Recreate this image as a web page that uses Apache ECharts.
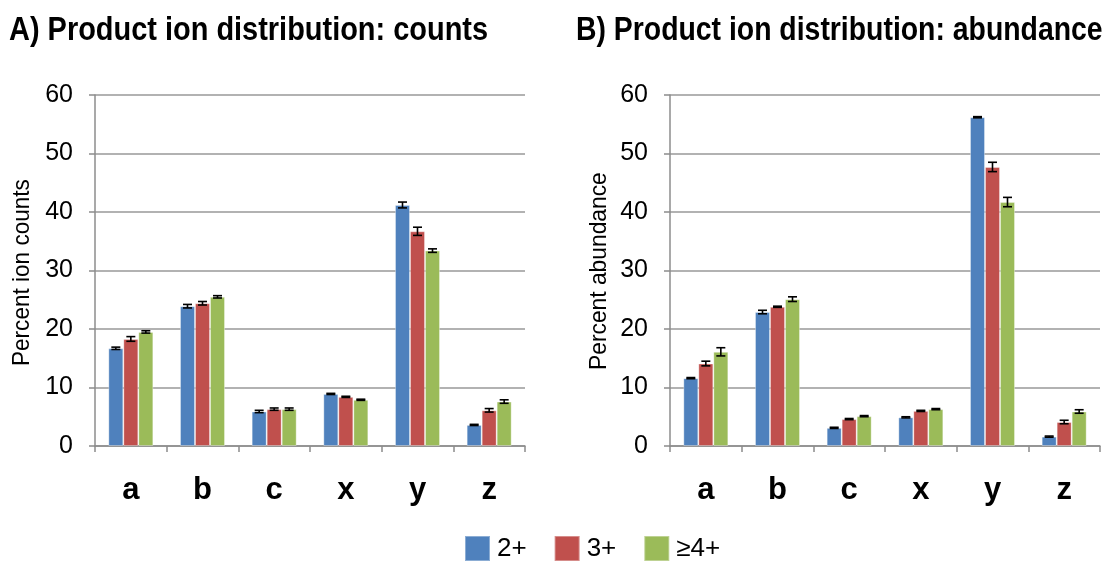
<!DOCTYPE html>
<html>
<head>
<meta charset="utf-8">
<script src="https://cdn.jsdelivr.net/npm/echarts@6/dist/echarts.min.js"></script>
<style>
html,body{margin:0;padding:0;background:#fff;}
#chart{width:1114px;height:563px;}
</style>
</head>
<body>
<div id="chart"></div>
<script>
var categories = ['a', 'b', 'c', 'x', 'y', 'z'];
var seriesNames = ['2+', '3+', '\u22654+'];
var yTicks = [0, 10, 20, 30, 40, 50, 60];
var titles = ['A) Product ion distribution: counts', 'B) Product ion distribution: abundance'];
var axisNames = ['Percent ion counts', 'Percent abundance'];

var counts2 = [16.7, 23.9, 5.9, 8.9, 41.2, 3.6];
var counts3 = [18.3, 24.4, 6.3, 8.4, 36.7, 6.1];
var counts4 = [19.5, 25.5, 6.3, 7.9, 33.4, 7.6];
var countsErr2 = [0.2, 0.3, 0.2, 0.1, 0.5, 0.1];
var countsErr3 = [0.4, 0.3, 0.2, 0.1, 0.7, 0.3];
var countsErr4 = [0.2, 0.2, 0.2, 0.1, 0.3, 0.3];

var abund2 = [11.6, 22.9, 3.1, 4.9, 56.2, 1.6];
var abund3 = [14.1, 23.8, 4.6, 6.0, 47.7, 4.1];
var abund4 = [16.1, 25.1, 5.1, 6.3, 41.7, 5.9];
var abundErr2 = [0.1, 0.3, 0.1, 0.1, 0.1, 0.1];
var abundErr3 = [0.4, 0.1, 0.1, 0.1, 0.8, 0.3];
var abundErr4 = [0.7, 0.4, 0.1, 0.1, 0.8, 0.3];

var colors = ['#4F81BD', '#C0504D', '#9BBB59'];
var FONT = '"Liberation Sans", Arial, sans-serif';
var BAR_W = 15;

function errData(means, errs) {
  var out = [];
  for (var s = 0; s < means.length; s++) {
    for (var i = 0; i < categories.length; i++) {
      out.push([i, means[s][i], errs[s][i], s]);
    }
  }
  return out;
}

function renderErr(params, api) {
  var cat = api.value(0), val = api.value(1), err = api.value(2), s = api.value(3);
  var top = api.coord([cat, val + err]);
  var bot = api.coord([cat, val - err]);
  var x = top[0] + (s - 1) * BAR_W;
  var cap = 4.5;
  var style = { stroke: '#000', lineWidth: 1.6 };
  return {
    type: 'group',
    children: [
      { type: 'line', shape: { x1: x, y1: top[1], x2: x, y2: bot[1] }, style: style },
      { type: 'line', shape: { x1: x - cap, y1: top[1], x2: x + cap, y2: top[1] }, style: style },
      { type: 'line', shape: { x1: x - cap, y1: bot[1], x2: x + cap, y2: bot[1] }, style: style }
    ]
  };
}

function makeX(gi) {
  return {
    type: 'category', gridIndex: gi, data: categories,
    axisLine: { lineStyle: { color: '#8c8c8c', width: 1.5 } },
    axisTick: { show: true, length: 6, lineStyle: { color: '#8c8c8c', width: 1.5 } },
    axisLabel: { color: '#000', fontFamily: FONT, fontWeight: 'bold', fontSize: 31, margin: 29 }
  };
}
function makeY(gi) {
  return {
    type: 'value', gridIndex: gi, min: yTicks[0], max: yTicks[yTicks.length - 1], interval: 10,
    axisLine: { show: true, lineStyle: { color: '#8c8c8c', width: 1.5 } },
    axisTick: { show: true, length: 6, lineStyle: { color: '#8c8c8c', width: 1.5 } },
    splitLine: { lineStyle: { color: '#999', width: 1.5 } },
    axisLabel: { color: '#000', fontFamily: FONT, fontSize: 25, margin: 22 }
  };
}

var countsMeans = [counts2, counts3, counts4];
var countsErrs = [countsErr2, countsErr3, countsErr4];
var abundMeans = [abund2, abund3, abund4];
var abundErrs = [abundErr2, abundErr3, abundErr4];

var series = [];
[countsMeans, abundMeans].forEach(function (means, gi) {
  means.forEach(function (arr, s) {
    series.push({
      type: 'bar', name: seriesNames[s], xAxisIndex: gi, yAxisIndex: gi,
      data: arr, barWidth: BAR_W, barGap: '0%',
      itemStyle: { color: colors[s], borderColor: 'rgba(255,255,255,0.35)', borderWidth: 1 },
      emphasis: { disabled: true }, animation: false
    });
  });
});
series.push({
  type: 'custom', xAxisIndex: 0, yAxisIndex: 0, renderItem: renderErr,
  data: errData(countsMeans, countsErrs), z: 10, animation: false, silent: true
});
series.push({
  type: 'custom', xAxisIndex: 1, yAxisIndex: 1, renderItem: renderErr,
  data: errData(abundMeans, abundErrs), z: 10, animation: false, silent: true
});

var chart = echarts.init(document.getElementById('chart'), null, { renderer: 'canvas' });
chart.setOption({
  animation: false,
  backgroundColor: '#fff',
  graphic: [
    { type: 'text', x: 9, y: 14, scaleX: 0.877, silent: true,
      style: { text: titles[0], font: 'bold 33px ' + FONT, fill: '#000' } },
    { type: 'text', x: 576, y: 14, scaleX: 0.86, silent: true,
      style: { text: titles[1], font: 'bold 33px ' + FONT, fill: '#000' } },
    { type: 'text', x: 10, y: 366, rotation: Math.PI / 2, scaleX: 0.94, silent: true,
      style: { text: axisNames[0], font: '24px ' + FONT, fill: '#000' } },
    { type: 'text', x: 587, y: 370, rotation: Math.PI / 2, scaleX: 0.95, silent: true,
      style: { text: axisNames[1], font: '24px ' + FONT, fill: '#000' } }
  ],
  legend: {
    data: seriesNames, left: 464, top: 535, icon: 'rect',
    itemWidth: 25, itemHeight: 25, itemGap: 27, padding: 0,
    textStyle: { fontFamily: FONT, fontSize: 26, color: '#000', padding: [0, 0, 0, 2] }
  },
  grid: [
    { left: 95, top: 95, width: 430, height: 351 },
    { left: 670, top: 95, width: 430, height: 351 }
  ],
  xAxis: [makeX(0), makeX(1)],
  yAxis: [makeY(0), makeY(1)],
  series: series
});
</script>
</body>
</html>
